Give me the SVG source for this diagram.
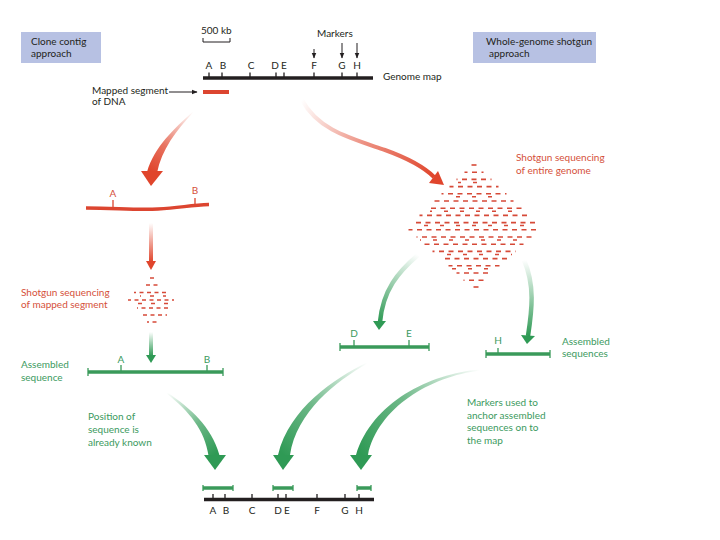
<svg xmlns="http://www.w3.org/2000/svg" width="720" height="540" viewBox="0 0 720 540">
<style>
text{font-family:Lato,"Open Sans","Liberation Sans",sans-serif;font-size:10px}
.k{fill:#231f20}.r{fill:#d5503a}.g{fill:#3b9a5e}
.mid{text-anchor:middle}
.map{stroke:#231f20;stroke-width:3.5;fill:none}
.tk{stroke:#231f20;stroke-width:1.3}
.gl{stroke:#3a9a5a;stroke-width:3.5;fill:none}
.gt{stroke:#3a9a5a;stroke-width:1.3}
.rl{stroke:#dc4530;stroke-width:3.5;fill:none}
.rt{stroke:#dc4530;stroke-width:1.3}
.box{fill:#b7c1e3}
.cd{stroke:#d64a38;stroke-width:1.6;stroke-dasharray:5 4.5}
.cj{stroke:#d64a38;stroke-width:1.5;stroke-dasharray:4 12}
.sd{stroke:#d64a38;stroke-width:1.5;stroke-dasharray:4 3.5}
.sj{stroke:#d64a38;stroke-width:1.4;stroke-dasharray:4 9}
.rh{fill:#e0452c}.gh{fill:#2f9a55}
</style>
<defs>
<marker id="ah" viewBox="0 0 10 10" refX="9" refY="5" markerWidth="6" markerHeight="6" markerUnits="userSpaceOnUse" orient="auto"><path d="M0,1 L10,5 L0,9 Z" fill="#231f20"/></marker>
<linearGradient id="gr1" gradientUnits="userSpaceOnUse" x1="193" y1="112" x2="152" y2="172"><stop offset="0" stop-color="#e0452c" stop-opacity="0"/><stop offset="0.6" stop-color="#e0452c" stop-opacity="0.75"/><stop offset="1" stop-color="#e0452c"/></linearGradient>
<linearGradient id="gr2" gradientUnits="userSpaceOnUse" x1="302" y1="100" x2="434" y2="177"><stop offset="0" stop-color="#e0452c" stop-opacity="0"/><stop offset="0.5" stop-color="#e0452c" stop-opacity="0.6"/><stop offset="1" stop-color="#e0452c"/></linearGradient>
<linearGradient id="gr3" gradientUnits="userSpaceOnUse" x1="151" y1="223" x2="151" y2="262"><stop offset="0" stop-color="#e0452c" stop-opacity="0"/><stop offset="1" stop-color="#e0452c"/></linearGradient>
<linearGradient id="gg0" gradientUnits="userSpaceOnUse" x1="151" y1="332" x2="151" y2="356"><stop offset="0" stop-color="#2f9a55" stop-opacity="0"/><stop offset="1" stop-color="#2f9a55"/></linearGradient>
<linearGradient id="gg1" gradientUnits="userSpaceOnUse" x1="418" y1="255" x2="380" y2="322"><stop offset="0" stop-color="#2f9a55" stop-opacity="0"/><stop offset="1" stop-color="#2f9a55"/></linearGradient>
<linearGradient id="gg2" gradientUnits="userSpaceOnUse" x1="524" y1="260" x2="528" y2="336"><stop offset="0" stop-color="#2f9a55" stop-opacity="0"/><stop offset="1" stop-color="#2f9a55"/></linearGradient>
<linearGradient id="gg3" gradientUnits="userSpaceOnUse" x1="167" y1="393" x2="214" y2="455"><stop offset="0" stop-color="#2f9a55" stop-opacity="0"/><stop offset="0.55" stop-color="#2f9a55" stop-opacity="0.7"/><stop offset="1" stop-color="#2f9a55"/></linearGradient>
<linearGradient id="gg4" gradientUnits="userSpaceOnUse" x1="367" y1="363" x2="284" y2="455"><stop offset="0" stop-color="#2f9a55" stop-opacity="0"/><stop offset="0.55" stop-color="#2f9a55" stop-opacity="0.7"/><stop offset="1" stop-color="#2f9a55"/></linearGradient>
<linearGradient id="gg5" gradientUnits="userSpaceOnUse" x1="480" y1="370" x2="362" y2="455"><stop offset="0" stop-color="#2f9a55" stop-opacity="0"/><stop offset="0.55" stop-color="#2f9a55" stop-opacity="0.7"/><stop offset="1" stop-color="#2f9a55"/></linearGradient>
</defs>

<g id="clone-contig-label">
<rect class="box" x="21" y="32" width="80" height="31"/>
<text class="k" x="31" y="45">Clone contig</text>
<text class="k" x="31" y="57">approach</text>
</g>
<g id="wgs-label">
<rect class="box" x="473" y="32" width="123" height="31"/>
<text class="k" x="486" y="45">Whole-genome shotgun</text>
<text class="k" x="489" y="57">approach</text>
</g>

<g id="scale">
<text class="k" x="201" y="34">500 kb</text>
<path d="M203,38 V42 H230 V38" fill="none" stroke="#231f20" stroke-width="1"/>
</g>

<g id="markers">
<text class="k" x="317" y="37">Markers</text>
<line x1="314" y1="49" x2="314" y2="58" stroke="#231f20" stroke-width="1" marker-end="url(#ah)"/>
<line x1="342" y1="43" x2="342" y2="58" stroke="#231f20" stroke-width="1" marker-end="url(#ah)"/>
<line x1="357" y1="43" x2="357" y2="58" stroke="#231f20" stroke-width="1" marker-end="url(#ah)"/>
</g>

<g id="genome-map-top">
<line class="map" x1="203" y1="78" x2="373" y2="78"/>
<path class="tk" d="M209,72.5V78M222,72.5V78M250,72.5V78M276,72.5V78M284,72.5V78M314,72.5V78M342,72.5V78M357,72.5V78"/>
<text class="k mid" x="209" y="69">A</text>
<text class="k mid" x="223" y="69">B</text>
<text class="k mid" x="251" y="69">C</text>
<text class="k mid" x="275" y="69">D</text>
<text class="k mid" x="284" y="69">E</text>
<text class="k mid" x="314" y="69">F</text>
<text class="k mid" x="342" y="69">G</text>
<text class="k mid" x="357" y="69">H</text>
<text class="k" x="383" y="80">Genome map</text>
</g>

<g id="mapped-segment">
<line x1="203" y1="92" x2="229" y2="92" stroke="#dc4530" stroke-width="4"/>
<line x1="169" y1="92" x2="197" y2="92" stroke="#231f20" stroke-width="1" marker-end="url(#ah)"/>
<text class="k" x="92" y="94">Mapped segment</text>
<text class="k" x="92" y="105">of DNA</text>
</g>

<g id="segment-AB">
<path class="rl" d="M86,208 C115,208 135,210 158,209 C180,208 190,205 209,204.5"/>
<path class="rt" d="M113,200V208M195,198V205"/>
<text class="r mid" x="113" y="197">A</text>
<text class="r mid" x="195" y="194">B</text>
</g>

<g id="small-cloud">
<line class="sd" x1="150" y1="278" x2="155" y2="278"/>
<line class="sd" x1="146" y1="285" x2="160" y2="285"/>
<line class="sd" x1="134" y1="292.5" x2="168" y2="292.5" stroke-dashoffset="2"/>
<line class="sj" x1="140" y1="296" x2="166" y2="296" stroke-dashoffset="3"/>
<line class="sd" x1="128" y1="300" x2="174" y2="300" stroke-dashoffset="1"/>
<line class="sj" x1="138" y1="303.5" x2="170" y2="303.5"/>
<line class="sd" x1="137" y1="308" x2="170" y2="308" stroke-dashoffset="3"/>
<line class="sd" x1="143" y1="315" x2="167" y2="315"/>
<line class="sd" x1="147" y1="322" x2="160" y2="322" stroke-dashoffset="2"/>
<text class="r" x="21" y="296">Shotgun sequencing</text>
<text class="r" x="21" y="308">of mapped segment</text>
</g>

<g id="assembled-sequence">
<line class="gl" x1="88" y1="372" x2="223" y2="372"/>
<path class="gt" d="M88,368V376M223,368V376M121,365V372M207,365V372"/>
<text class="g mid" x="121" y="363">A</text>
<text class="g mid" x="207" y="363">B</text>
<text class="g" x="21" y="368">Assembled</text>
<text class="g" x="21" y="381">sequence</text>
</g>

<g id="position-note">
<text class="g" x="88" y="420">Position of</text>
<text class="g" x="88" y="433">sequence is</text>
<text class="g" x="88" y="446">already known</text>
</g>

<g id="big-cloud">
<line class="cd" x1="471.5" y1="165" x2="476.5" y2="165"/>
<line class="cd" x1="464.5" y1="172.2" x2="483.5" y2="172.2" stroke-dashoffset="2"/>
<line class="cd" x1="456.5" y1="179.4" x2="491.5" y2="179.4" stroke-dashoffset="4"/>
<line class="cj" x1="458" y1="182.4" x2="488" y2="182.4" stroke-dashoffset="1"/>
<line class="cd" x1="449.5" y1="186.6" x2="498.5" y2="186.6" stroke-dashoffset="1"/>
<line class="cd" x1="441.5" y1="193.8" x2="506.5" y2="193.8" stroke-dashoffset="3"/>
<line class="cj" x1="446" y1="196.8" x2="502" y2="196.8" stroke-dashoffset="6"/>
<line class="cd" x1="434.5" y1="201" x2="513.5" y2="201" stroke-dashoffset="0"/>
<line class="cd" x1="426.5" y1="208.2" x2="521.5" y2="208.2" stroke-dashoffset="5"/>
<line class="cj" x1="430" y1="211.2" x2="518" y2="211.2" stroke-dashoffset="2"/>
<line class="cd" x1="419.5" y1="215.4" x2="528.5" y2="215.4" stroke-dashoffset="2"/>
<line class="cd" x1="412.5" y1="222.6" x2="535.5" y2="222.6" stroke-dashoffset="6"/>
<line class="cj" x1="416" y1="225.6" x2="532" y2="225.6" stroke-dashoffset="8"/>
<line class="cd" x1="408.5" y1="229.8" x2="539.5" y2="229.8" stroke-dashoffset="1"/>
<line class="cd" x1="416.5" y1="237" x2="531.5" y2="237" stroke-dashoffset="4"/>
<line class="cj" x1="420" y1="240" x2="528" y2="240" stroke-dashoffset="3"/>
<line class="cd" x1="424.5" y1="244.2" x2="523.5" y2="244.2" stroke-dashoffset="0"/>
<line class="cd" x1="432.5" y1="251.4" x2="515.5" y2="251.4" stroke-dashoffset="3"/>
<line class="cj" x1="436" y1="254.4" x2="512" y2="254.4" stroke-dashoffset="5"/>
<line class="cd" x1="440.5" y1="258.6" x2="507.5" y2="258.6" stroke-dashoffset="5"/>
<line class="cd" x1="448.5" y1="265.8" x2="499.5" y2="265.8" stroke-dashoffset="1"/>
<line class="cj" x1="452" y1="268.8" x2="496" y2="268.8" stroke-dashoffset="0"/>
<line class="cd" x1="456.5" y1="273" x2="491.5" y2="273" stroke-dashoffset="2"/>
<line class="cd" x1="463.5" y1="280.2" x2="484.5" y2="280.2" stroke-dashoffset="4"/>
<line class="cd" x1="473.5" y1="287" x2="478.5" y2="287"/>
<text class="r" x="516" y="161">Shotgun sequencing</text>
<text class="r" x="516" y="174">of entire genome</text>
</g>

<g id="contig-DE">
<line class="gl" x1="340" y1="347" x2="429" y2="347"/>
<path class="gt" d="M340,343V351M429,343V351M354,340V347M409,340V347"/>
<text class="g mid" x="354" y="337">D</text>
<text class="g mid" x="409" y="337">E</text>
</g>

<g id="contig-H">
<line class="gl" x1="486" y1="354" x2="550" y2="354"/>
<path class="gt" d="M486,350V358M550,350V358M498,348V354"/>
<text class="g mid" x="498" y="344">H</text>
<text class="g" x="562" y="345">Assembled</text>
<text class="g" x="562" y="357">sequences</text>
</g>

<g id="anchor-note">
<text class="g" x="467" y="406">Markers used to</text>
<text class="g" x="467" y="419">anchor assembled</text>
<text class="g" x="467" y="431">sequences on to</text>
<text class="g" x="467" y="444">the map</text>
</g>

<g id="genome-map-bottom">
<line class="gl" x1="203" y1="488" x2="233" y2="488"/>
<path class="gt" d="M203,485V491M233,485V491"/>
<line class="gl" x1="273" y1="488" x2="293" y2="488"/>
<path class="gt" d="M273,485V491M293,485V491"/>
<line class="gl" x1="357" y1="488" x2="371" y2="488"/>
<path class="gt" d="M357,485V491M371,485V491"/>
<line class="map" x1="204" y1="499.5" x2="374" y2="499.5"/>
<path class="tk" d="M213,494V499M225,494V499M252,494V499M278,494V499M286,494V499M317,494V499M345,494V499M359,494V499"/>
<text class="k mid" x="213" y="514">A</text>
<text class="k mid" x="226" y="514">B</text>
<text class="k mid" x="252" y="514">C</text>
<text class="k mid" x="278" y="514">D</text>
<text class="k mid" x="287" y="514">E</text>
<text class="k mid" x="317" y="514">F</text>
<text class="k mid" x="345" y="514">G</text>
<text class="k mid" x="359" y="514">H</text>
</g>

<g id="connectors">
<path d="M192.7,111.7 C174,129 154.4,146.4 147,172 L157,173 C161.6,149.6 176,131 193.3,112.3 Z" fill="url(#gr1)"/>
<path class="rh" d="M141,171 L163,171 L151,186 Z"/>
<path d="M302,100 C318,130 350,138 385,150 C410,159 425,168 434,177" fill="none" stroke="url(#gr2)" stroke-width="4"/>
<path class="rh" d="M429,183 L438,171 L444,185 Z"/>
<line x1="151" y1="223" x2="151" y2="262" stroke="url(#gr3)" stroke-width="4"/>
<path class="rh" d="M146,261 L156,261 L151,270 Z"/>
<line x1="151" y1="332" x2="151" y2="356" stroke="url(#gg0)" stroke-width="4"/>
<path class="gh" d="M146,355 L156,355 L151,363 Z"/>
<path d="M418,255 C398,272 383,290 380,322" fill="none" stroke="url(#gg1)" stroke-width="4.5"/>
<path class="gh" d="M373,321 L386,321 L379,330 Z"/>
<path d="M524,260 C535,285 532,310 528,336" fill="none" stroke="url(#gg2)" stroke-width="4.5"/>
<path class="gh" d="M521,335 L535,336 L527,344 Z"/>
<path d="M166.6,393.4 C189,411 205,430 208.6,456 L219.4,455 C211,426 191,409 167.4,392.6 Z" fill="url(#gg3)"/>
<path class="gh" d="M204,455 L226,455 L215,470 Z"/>
<path d="M366.7,362.6 C334.1,378.8 289.6,408 278,455 L290,455 C296.4,412 335.9,381.2 367.3,363.4 Z" fill="url(#gg4)"/>
<path class="gh" d="M273,455 L294,455 L283,470 Z"/>
<path d="M480,369.5 C429.5,373.6 372,402.4 356,455 L368,455 C378,407.6 430.5,376.4 480,370.5 Z" fill="url(#gg5)"/>
<path class="gh" d="M350,455 L372,455 L361,470 Z"/>
</g>
</svg>
